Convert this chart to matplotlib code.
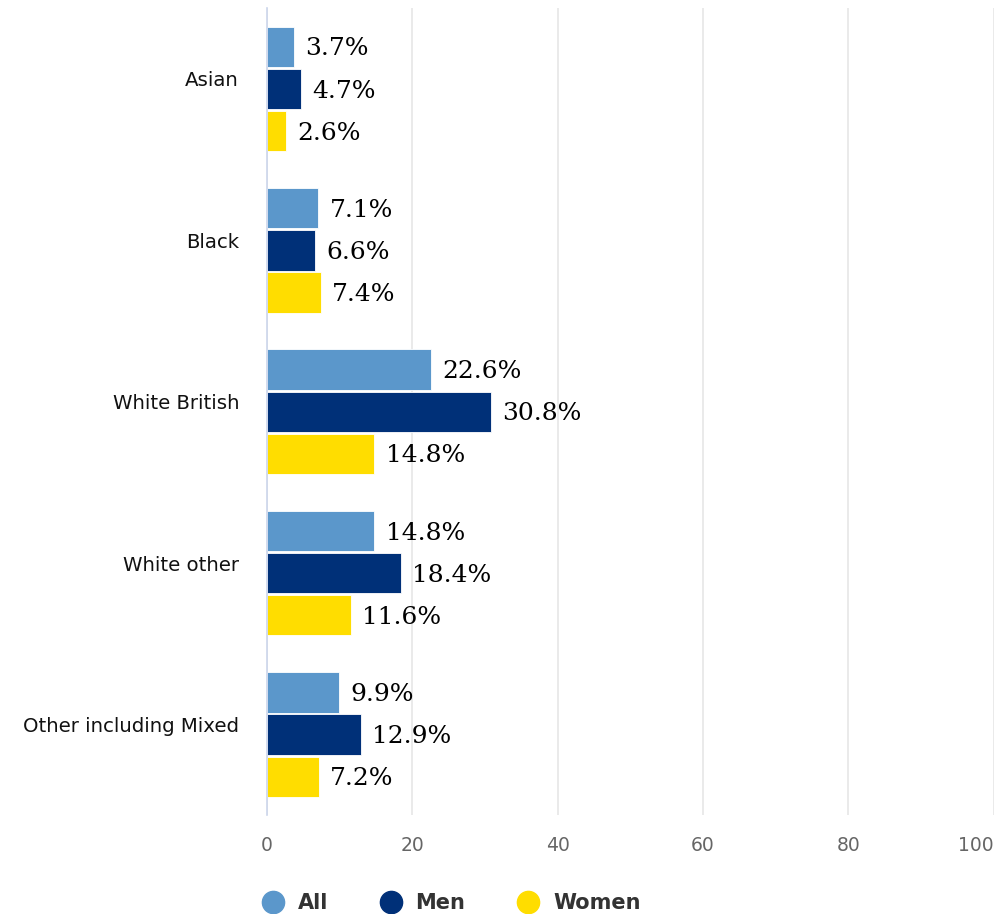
import matplotlib.pyplot as plt
import matplotlib.transforms as mtransforms
import numpy as np
from matplotlib.lines import Line2D

categories = ["Asian", "Black", "White British", "White other", "Other including Mixed"]
series_names = ["All", "Men", "Women"]
all_vals = [3.7, 7.1, 22.6, 14.8, 9.9]
men_vals = [4.7, 6.6, 30.8, 18.4, 12.9]
women_vals = [2.6, 7.4, 14.8, 11.6, 7.2]
colors = ["#5b97cb", "#003078", "#ffdd00"]

fig = plt.figure(figsize=(10.07, 9.14), dpi=100)
ax = fig.add_axes([0.265, 0.108, 0.722, 0.883])

y = np.arange(len(categories))
bar_h = 0.25
step = 0.261
for i, (vals, col) in enumerate(zip([all_vals, men_vals, women_vals], colors)):
    pos = y + (i - 1) * step
    ax.barh(pos, vals, height=bar_h, color=col, edgecolor="white", linewidth=0.6, zorder=3)
    for p, v in zip(pos, vals):
        ax.annotate(f"{v}%", (v, p), xytext=(8, -1.5), textcoords="offset points",
                    va="center", ha="left", fontsize=18, family="DejaVu Serif", color="black")

ax.set_xlim(0, 100)
ax.set_ylim(len(categories) - 0.5, -0.5)
ax.set_yticks(y)
ax.set_yticklabels(categories, fontsize=14.2, color="#111111")
ax.set_xticks([0, 20, 40, 60, 80, 100])
ax.tick_params(axis="x", labelsize=13.5, labelcolor="#666666", length=0, pad=15)
ax.tick_params(axis="y", length=0, pad=20)
# nudge category labels up a little, like the reference
shift = mtransforms.ScaledTranslation(0, 0.1, fig.dpi_scale_trans)
for lab in ax.get_yticklabels():
    lab.set_transform(lab.get_transform() + shift)
ax.get_xticklabels()[-1].set_ha("right")
ax.grid(axis="x", color="#e6e6e6", linewidth=1.2, zorder=0)
for s in ["top", "right", "bottom"]:
    ax.spines[s].set_visible(False)
ax.spines["left"].set_color("#ccd6eb")
ax.spines["left"].set_linewidth(1.2)
ax.spines["left"].set_zorder(4)

handles = [Line2D([], [], marker="o", linestyle="", markersize=16, color=c) for c in colors]
leg = fig.legend(handles, series_names, loc="center", bbox_to_anchor=(0.443, 0.012),
                 ncol=3, frameon=False, fontsize=15, handletextpad=0.2, columnspacing=2.0)
for t in leg.get_texts():
    t.set_fontweight("bold")
    t.set_color("#333333")

fig.savefig("out.png", dpi=100)
